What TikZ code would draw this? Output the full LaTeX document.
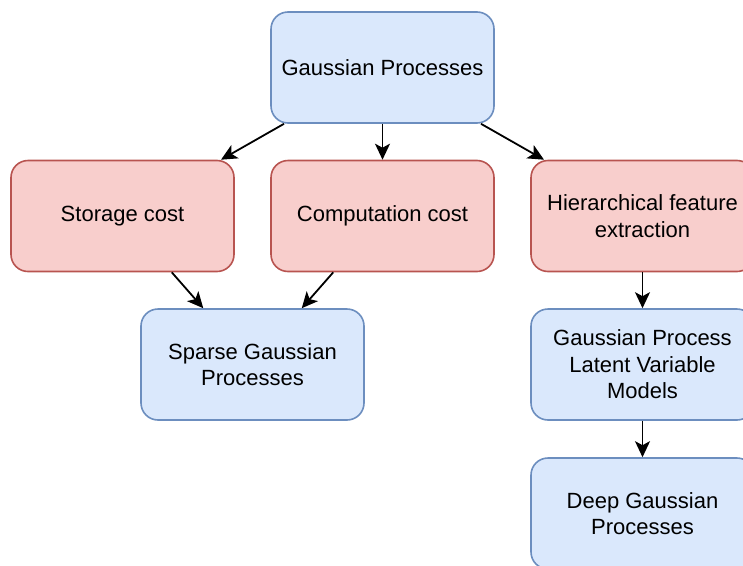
\documentclass[tikz,border=0pt]{standalone}
\usepackage{fontspec}
\setmainfont{Liberation Sans}
\usepackage{xcolor}
\usetikzlibrary{arrows.meta}

\definecolor{bluefill}{HTML}{DAE8FC}
\definecolor{bluedraw}{HTML}{6C8EBF}
\definecolor{redfill}{HTML}{F8CECC}
\definecolor{reddraw}{HTML}{B85450}

\tikzset{
	box/.style={rectangle, rounded corners=17pt, line width=1.6pt, minimum width=223pt, minimum height=111pt, align=center, font=\fontsize{22}{26.4}\selectfont, text=black},
	bluebox/.style={box, fill=bluefill, draw=bluedraw},
	redbox/.style={box, fill=redfill, draw=reddraw},
	link/.style={draw=black, line width=1.8pt, -{Stealth[length=16pt, width=15pt, inset=4pt]}}
}

\begin{document}
\begin{tikzpicture}[x=1pt, y=-1pt]
		\useasboundingbox (0,0) rectangle (743,565);
		\node[bluebox] (gp) at (382.5,67.5) {Gaussian Processes};
		\node[redbox] (storage) at (122.5,216) {Storage cost};
		\node[redbox] (computation) at (382.5,216) {Computation cost};
		\node[redbox] (hierarchical) at (642.5,216) {Hierarchical feature\\extraction};
		\node[bluebox] (sparse) at (252.5,364.5) {Sparse Gaussian\\Processes};
		\node[bluebox] (gplvm) at (642.5,364.5) {Gaussian Process\\Latent Variable\\Models};
		\node[bluebox] (deep) at (642.5,513.5) {Deep Gaussian\\Processes};
		\draw[link] (gp) -- (storage);
		\draw[link] (gp) -- (computation);
		\draw[link] (gp) -- (hierarchical);
		\draw[link] (storage) -- (sparse);
		\draw[link] (computation) -- (sparse);
		\draw[link] (hierarchical) -- (gplvm);
		\draw[link] (gplvm) -- (deep);
	\end{tikzpicture}
\end{document}
